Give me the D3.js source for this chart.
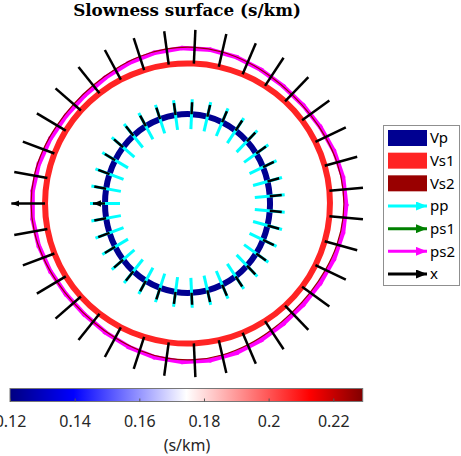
<!DOCTYPE html>
<html>
<head>
<meta charset="utf-8">
<script src="https://cdn.jsdelivr.net/npm/d3@7"></script>
<style>
  body { margin: 0; background: #fff; }
  svg { display: block; }
</style>
</head>
<body>
<div id="chart"></div>
<script>
// Slowness surface section, 35 sampled propagation directions (deg)
const directions = [
  180.0, 190.3, 200.6, 210.9, 221.1, 231.4, 241.7, 252.0, 262.3, 272.6,
  282.9, 293.1, 303.4, 313.7, 324.0, 334.3, 344.6, 354.9, 5.1, 15.4,
  25.7, 36.0, 46.3, 56.6, 66.9, 77.1, 87.4, 97.7, 108.0, 118.3,
  128.6, 138.9, 149.1, 159.4, 169.7
];

// slowness (s/km) per direction
const vpSlowness = [
  0.1200, 0.1203, 0.1212, 0.1226, 0.1243, 0.1261, 0.1278, 0.1290, 0.1298, 0.1300,
  0.1295, 0.1285, 0.1270, 0.1252, 0.1235, 0.1219, 0.1207, 0.1201, 0.1201, 0.1207,
  0.1219, 0.1235, 0.1252, 0.1270, 0.1285, 0.1295, 0.1300, 0.1298, 0.1290, 0.1278,
  0.1261, 0.1243, 0.1226, 0.1212, 0.1203
];
const vs1Slowness = [
  0.2072, 0.2071, 0.2068, 0.2063, 0.2057, 0.2051, 0.2045, 0.2040, 0.2038, 0.2037,
  0.2039, 0.2042, 0.2048, 0.2054, 0.2060, 0.2065, 0.2070, 0.2072, 0.2072, 0.2070,
  0.2065, 0.2060, 0.2054, 0.2048, 0.2042, 0.2039, 0.2037, 0.2038, 0.2040, 0.2045,
  0.2051, 0.2057, 0.2063, 0.2068, 0.2071
];
const vs2Slowness = [
  0.2275, 0.2265, 0.2240, 0.2213, 0.2197, 0.2199, 0.2219, 0.2247, 0.2269, 0.2274,
  0.2260, 0.2233, 0.2207, 0.2195, 0.2203, 0.2226, 0.2254, 0.2272, 0.2272, 0.2254,
  0.2226, 0.2203, 0.2195, 0.2207, 0.2233, 0.2260, 0.2274, 0.2269, 0.2247, 0.2219,
  0.2199, 0.2197, 0.2213, 0.2240, 0.2265
];

const legendLabels = ["Vp", "Vs1", "Vs2", "pp", "ps1", "ps2", "x"];
const colorbarDomain = [0.12, 0.2291];
const colorbarTicks = [0.12, 0.14, 0.16, 0.18, 0.2, 0.22];

const colors = {
  Vp: "#000091", Vs1: "#ff2424", Vs2: "#990000",
  pp: "#00ffff", ps1: "#008000", ps2: "#ff00ff", x: "#000000"
};

const width = 461, height = 456;
const svg = d3.select("#chart").append("svg")
  .attr("width", width).attr("height", height);

// equal-aspect slowness axes
const x = d3.scaleLinear().domain([-0.25, 0.25]).range([15.6, 359.4]);
const y = d3.scaleLinear().domain([-0.25, 0.25]).range([375.4, 31.6]);
const rad = (d) => (d * Math.PI) / 180;

function surface(vals) {
  return directions.map((a, i) => {
    const t = rad(a);
    return { t, s: vals[i], ux: Math.cos(t), uy: Math.sin(t),
      sx: vals[i] * Math.cos(t), sy: vals[i] * Math.sin(t) };
  });
}
const vp = surface(vpSlowness);
const vs1 = surface(vs1Slowness);
const vs2 = surface(vs2Slowness);

const line = d3.line().x((d) => x(d.sx)).y((d) => y(d.sy))
  .curve(d3.curveCatmullRomClosed);

const defs = svg.append("defs");
function marker(id, color, len, hw) {
  defs.append("marker").attr("id", id)
    .attr("markerUnits", "userSpaceOnUse")
    .attr("viewBox", `0 ${-hw} ${len} ${2 * hw}`)
    .attr("refX", len).attr("refY", 0)
    .attr("markerWidth", len).attr("markerHeight", 2 * hw)
    .attr("orient", "auto")
    .append("path").attr("d", `M0,${-hw}L${len},0L0,${hw}Z`).attr("fill", color);
}
marker("headBlack", "#000", 8, 3.2);
["pp", "ps1", "ps2", "x"].forEach((k) => marker("leg-" + k, colors[k], 11, 4.5));

const plot = svg.append("g");

// surfaces
plot.append("path").datum(vp).attr("d", line)
  .attr("fill", "none").attr("stroke", colors.Vp).attr("stroke-width", 6);
plot.append("path").datum(vs1).attr("d", line)
  .attr("fill", "none").attr("stroke", colors.Vs1).attr("stroke-width", 6);

// pp polarisation, centred on the Vp surface
const ppHalf = 0.0218;
plot.append("g").selectAll("line").data(vp).join("line")
  .attr("x1", (d) => x(d.sx - ppHalf * d.ux)).attr("y1", (d) => y(d.sy - ppHalf * d.uy))
  .attr("x2", (d) => x(d.sx + ppHalf * d.ux)).attr("y2", (d) => y(d.sy + ppHalf * d.uy))
  .attr("stroke", colors.pp).attr("stroke-width", 3);

// ps2 polarisation: tangent to the Vs2 surface (drawn slightly offset, as in the source render)
const n = vs2.length;
const ps2 = vs2.map((d, i) => {
  const a = vs2[(i + n - 1) % n], b = vs2[(i + 1) % n];
  const dx = b.sx - a.sx, dy = b.sy - a.sy, l = Math.hypot(dx, dy);
  return { sx: d.sx, sy: d.sy, tx: dx / l, ty: dy / l };
});
const psHalf = 0.0222;
plot.append("g").attr("transform", "translate(1.5,1.5)")
  .selectAll("line").data(ps2).join("line")
  .attr("x1", (d) => x(d.sx - psHalf * d.tx)).attr("y1", (d) => y(d.sy - psHalf * d.ty))
  .attr("x2", (d) => x(d.sx + psHalf * d.tx)).attr("y2", (d) => y(d.sy + psHalf * d.ty))
  .attr("stroke", colors.ps2).attr("stroke-width", 4.5);

plot.append("path").datum(vs2).attr("d", line)
  .attr("fill", "none").attr("stroke", colors.Vs2).attr("stroke-width", 1.2);

// propagation direction arrows
function arrows(pts, len) {
  plot.append("g").selectAll("line").data(pts).join("line")
    .attr("x1", (d) => x(d.sx)).attr("y1", (d) => y(d.sy))
    .attr("x2", (d) => x(d.sx + len * d.ux)).attr("y2", (d) => y(d.sy + len * d.uy))
    .attr("stroke", colors.x).attr("stroke-width", 2.5)
    .attr("marker-end", (d, i) => (i === 0 ? "url(#headBlack)" : null));
}
arrows(vs1, 0.049);
arrows(vp, 0.0175);

// title
const title = svg.append("text")
  .attr("x", 187).attr("y", 15.5).attr("text-anchor", "middle")
  .attr("font-family", "DejaVu Serif").attr("font-weight", "bold")
  .attr("font-size", 16).attr("fill", "#000")
  .text("Slowness surface (s/km)");
const tw = title.node().getComputedTextLength();
title.attr("font-size", 16 * 228 / tw);

// legend
const leg = svg.append("g").attr("font-family", "Noto Sans, sans-serif");
leg.append("rect").attr("x", 383.5).attr("y", 125.5).attr("width", 76).attr("height", 160)
  .attr("fill", "#fff").attr("stroke", "#8f8f8f").attr("stroke-width", 1);
const legY = d3.scalePoint().domain(legendLabels).range([138, 274]);
legendLabels.forEach((lab) => {
  const yy = legY(lab);
  if (["Vp", "Vs1", "Vs2"].includes(lab)) {
    leg.append("rect").attr("x", 388).attr("y", yy - 8).attr("width", 39).attr("height", 16)
      .attr("fill", colors[lab]);
  } else {
    leg.append("line").attr("x1", 388).attr("x2", 427).attr("y1", yy).attr("y2", yy)
      .attr("stroke", colors[lab]).attr("stroke-width", 3)
      .attr("marker-end", `url(#leg-${lab})`);
  }
  leg.append("text").attr("x", 430).attr("y", yy).attr("dy", "0.35em")
    .attr("font-size", 15).attr("fill", "#000").text(lab);
});

// colorbar
const cb = d3.scaleLinear().domain(colorbarDomain).range([10, 362.7]);
const grad = defs.append("linearGradient").attr("id", "cmap")
  .attr("x1", "0%").attr("x2", "100%").attr("y1", "0%").attr("y2", "0%");
[[0, "rgb(0,0,128)"], [0.18, "rgb(0,0,255)"], [0.5, "rgb(255,255,255)"],
 [0.85, "rgb(255,0,0)"], [1, "rgb(128,0,0)"]].forEach(([o, c]) =>
  grad.append("stop").attr("offset", o).attr("stop-color", c));
svg.append("rect").attr("x", cb.range()[0]).attr("y", 388.5)
  .attr("width", cb.range()[1] - cb.range()[0]).attr("height", 13)
  .attr("fill", "url(#cmap)").attr("stroke", "#777").attr("stroke-width", 1);

const axis = svg.append("g").attr("transform", "translate(0,401.5)")
  .call(d3.axisBottom(cb).tickValues(colorbarTicks).tickFormat(d3.format("~g"))
    .tickSizeInner(-3).tickSizeOuter(0).tickPadding(14));
axis.select(".domain").remove();
axis.selectAll(".tick line").attr("stroke", "#555");
axis.selectAll(".tick text").attr("font-family", "Noto Sans, sans-serif")
  .attr("font-size", 16).attr("fill", "#262626");

svg.append("text").attr("x", 187).attr("y", 451).attr("text-anchor", "middle")
  .attr("font-family", "Noto Sans, sans-serif").attr("font-size", 16)
  .attr("fill", "#262626").text("(s/km)");
</script>
</body>
</html>
